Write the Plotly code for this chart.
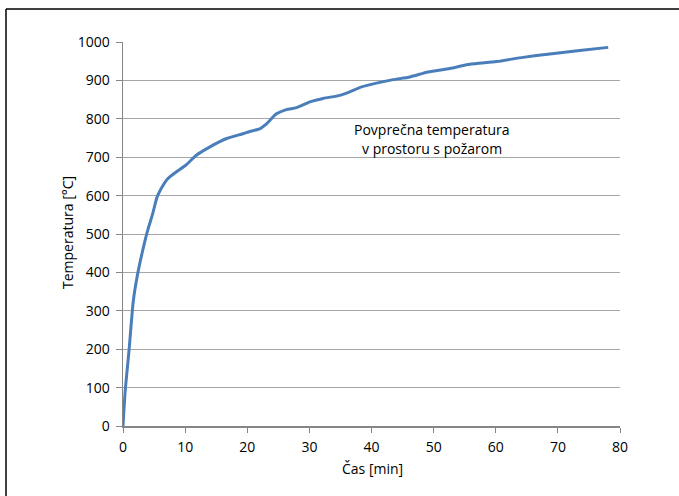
import plotly.graph_objects as go

time_min = [0, 0.38, 0.97, 1.67, 2.37, 3.17, 3.98, 4.78, 5.48, 6.13, 7.2, 8.5,
            10.1, 11.8, 14.0, 16.6, 19.3, 20.4, 22.0, 23.1, 24.7, 26.3, 27.9,
            30.1, 32.2, 34.9, 36.5, 38.4, 40.8, 43.5, 46.2, 49.1, 52.6, 55.8,
            60.1, 64.4, 68.7, 73.5, 78.1]
temperature = [0, 97, 197, 327, 397, 457, 510, 553, 596, 618, 644, 661,
               679, 705, 727, 748, 761, 767, 774, 787, 813, 824, 829,
               844, 853, 861, 870, 883, 893, 902, 909, 922, 931, 942,
               949, 960, 969, 978, 986]

x_ticks = [0, 10, 20, 30, 40, 50, 60, 70, 80]
y_ticks = [0, 100, 200, 300, 400, 500, 600, 700, 800, 900, 1000]

FONT = "Open Sans, Liberation Sans, Arial, sans-serif"

fig = go.Figure()
fig.add_trace(go.Scatter(
    x=time_min, y=temperature, mode="lines",
    line=dict(color="#4a7ebb", width=3, shape="spline", smoothing=0.6),
    showlegend=False, hoverinfo="skip"))

W, H = 679, 496
L, R, T, B = 123, 59, 42, 70
pw, ph = W - L - R, H - T - B

def px(xp):
    return (xp - L) / pw

def py(yp):
    return 1 - (yp - T) / ph

fig.update_layout(
    width=W, height=H,
    margin=dict(l=L, r=R, t=T, b=B),
    paper_bgcolor="white", plot_bgcolor="white",
    font=dict(family=FONT, size=14, color="#000000"),
    xaxis=dict(range=[0, 80], tickvals=x_ticks, showgrid=False,
               showline=True, linecolor="#868686", linewidth=1.5,
               ticks="outside", ticklen=5, tickcolor="#868686", tickwidth=1,
               zeroline=False, fixedrange=True, ticklabelstandoff=3),
    yaxis=dict(range=[0, 1000], tickvals=y_ticks, showgrid=True,
               gridcolor="#a6a6a6", gridwidth=1,
               showline=True, linecolor="#868686", linewidth=1.5,
               ticks="outside", ticklen=6, tickcolor="#868686", tickwidth=1,
               zeroline=False, fixedrange=True, ticklabelstandoff=3),
    shapes=[
        dict(type="line", xref="paper", yref="paper",
             x0=px(6), x1=px(6), y0=py(9), y1=py(H + 5),
             line=dict(color="black", width=1.5)),
        dict(type="line", xref="paper", yref="paper",
             x0=px(6), x1=px(W + 5), y0=py(9), y1=py(9),
             line=dict(color="black", width=1.5)),
    ],
    annotations=[
        dict(text="Povprečna temperatura", xref="paper", yref="paper",
             x=px(432), y=py(129), showarrow=False, xanchor="center",
             yanchor="middle"),
        dict(text="v prostoru s požarom", xref="paper", yref="paper",
             x=px(432), y=py(149), showarrow=False, xanchor="center",
             yanchor="middle"),
        dict(text="Čas [min]", xref="paper", yref="paper",
             x=px(372), y=py(468), showarrow=False, xanchor="center",
             yanchor="middle"),
        dict(text="Temperatura [°C]", xref="paper", yref="paper",
             x=px(68), y=py(233), showarrow=False, xanchor="center",
             yanchor="middle", textangle=-90),
    ],
)

fig.write_html("out.html",
               config={"displayModeBar": False, "staticPlot": True},
               post_script="document.body.style.margin='0';"
                           "document.body.style.overflow='hidden';")
